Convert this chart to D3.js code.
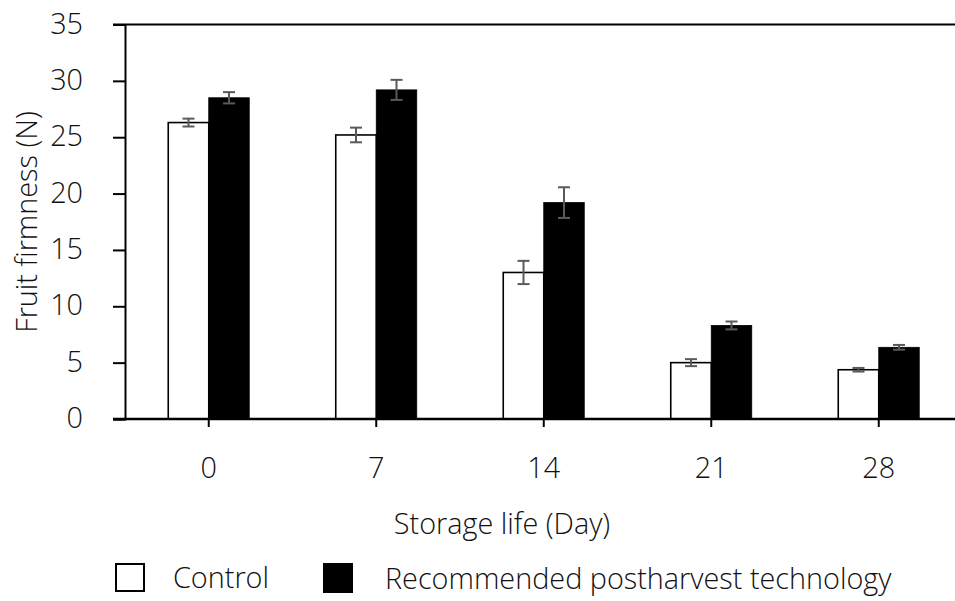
<!DOCTYPE html>
<html><head><meta charset="utf-8">
<script src="https://cdn.jsdelivr.net/npm/d3@7"></script>
<style>
body{margin:0;background:#fff;}
text{font-family:"Open Sans",sans-serif;font-weight:300;fill:#111;}
</style></head>
<body><svg id="c" width="955" height="601"></svg>
<script>
const categories = ["0","7","14","21","28"];
const controlValues = [26.3, 25.2, 13.0, 5.0, 4.37];
const controlErrors = [0.35, 0.65, 1.03, 0.31, 0.16];
const treatedValues = [28.5, 29.2, 19.2, 8.3, 6.36];
const treatedErrors = [0.5, 0.89, 1.36, 0.35, 0.21];
const yTicks = [0,5,10,15,20,25,30,35];
const seriesNames = ["Control","Recommended postharvest technology"];

const FS = "28.8px";
const svg = d3.select("#c");
const mLeft = 125, mRight = 962.5, mTop = 24.5, mBottom = 419;
const x = d3.scaleBand().domain(categories).range([mLeft, mRight]).paddingInner(0).paddingOuter(0);
const y = d3.scaleLinear().domain([0,35]).range([mBottom, mTop]);
const barW = 40.5;

// frame line at top
svg.append("line").attr("x1",113).attr("x2",955).attr("y1",y(35)).attr("y2",y(35)).attr("stroke","#000").attr("stroke-width",2);

// bars
const data = categories.map((c,i)=>({c, cv:controlValues[i], tv:treatedValues[i]}));
const g = svg.append("g");
g.selectAll("rect.ctrl").data(data).enter().append("rect")
  .attr("x", d=>x(d.c)+x.bandwidth()/2-barW)
  .attr("y", d=>y(d.cv)).attr("width", barW).attr("height", d=>y(0)-y(d.cv))
  .attr("fill","#fff").attr("stroke","#000").attr("stroke-width",1.6);
g.selectAll("rect.trt").data(data).enter().append("rect")
  .attr("x", d=>x(d.c)+x.bandwidth()/2)
  .attr("y", d=>y(d.tv)).attr("width", barW).attr("height", d=>y(0)-y(d.tv))
  .attr("fill","#000").attr("stroke","#000").attr("stroke-width",0.8);

// error bars
function errBars(vals, errs, off){
  const eg = svg.append("g").attr("stroke","#5a5a5a").attr("stroke-width",2);
  categories.forEach((c,i)=>{
    const cx = x(c)+x.bandwidth()/2+off;
    const y1 = y(vals[i]+errs[i]), y2 = y(vals[i]-errs[i]);
    eg.append("line").attr("x1",cx).attr("x2",cx).attr("y1",y1).attr("y2",y2);
    eg.append("line").attr("x1",cx-6).attr("x2",cx+6).attr("y1",y1).attr("y2",y1);
    eg.append("line").attr("x1",cx-6).attr("x2",cx+6).attr("y1",y2).attr("y2",y2);
  });
}
errBars(controlValues, controlErrors, -barW/2);
errBars(treatedValues, treatedErrors, barW/2);

// y axis
const yAxis = svg.append("g").attr("transform",`translate(${mLeft},0)`)
  .call(d3.axisLeft(y).tickValues(yTicks).tickSize(12).tickPadding(30).tickFormat(d3.format("d")));
yAxis.select(".domain").attr("stroke","#000").attr("stroke-width",2);
yAxis.selectAll(".tick line").attr("stroke","#000").attr("stroke-width",2);
yAxis.selectAll(".tick text").style("font-size",FS).style("font-family","'Open Sans',sans-serif").attr("fill","#111").attr("dy","0.3em");

// x axis
const xAxis = svg.append("g").attr("transform",`translate(0,${mBottom})`)
  .call(d3.axisBottom(x).tickSize(8).tickPadding(31));
xAxis.select(".domain").remove();
xAxis.selectAll(".tick line").attr("stroke","#000").attr("stroke-width",2);
xAxis.selectAll(".tick text").style("font-size",FS).style("font-family","'Open Sans',sans-serif").attr("fill","#111").attr("dy","0.71em");
svg.append("line").attr("x1",113).attr("x2",955).attr("y1",mBottom).attr("y2",mBottom).attr("stroke","#000").attr("stroke-width",2.5);

// axis titles
svg.append("text").attr("x",502).attr("y",534).attr("text-anchor","middle").style("font-size",FS).text("Storage life (Day)");
svg.append("text").attr("transform","translate(37,222) rotate(-90)").attr("text-anchor","middle").style("font-size",FS).text("Fruit firmness (N)");

// legend
const leg = svg.append("g");
leg.append("rect").attr("x",116).attr("y",564).attr("width",28).attr("height",27).attr("fill","#fff").attr("stroke","#000").attr("stroke-width",2);
leg.append("text").attr("x",173).attr("y",588).style("font-size",FS).text(seriesNames[0]);
leg.append("rect").attr("x",323).attr("y",563).attr("width",30).attr("height",30).attr("fill","#000");
leg.append("text").attr("x",385).attr("y",589).style("font-size",FS).text(seriesNames[1]);
</script></body></html>
